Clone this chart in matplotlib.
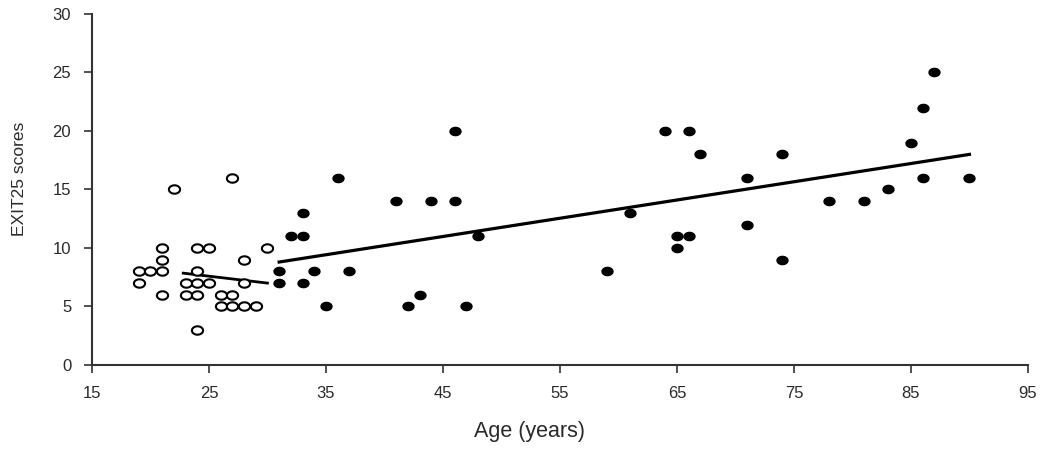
import matplotlib
matplotlib.use("Agg")
import matplotlib.pyplot as plt
import numpy as np
from matplotlib.path import Path

plt.rcParams['font.family'] = ['Liberation Sans', 'DejaVu Sans']

# younger group (open markers)
young_age = [19, 20, 21, 19, 21, 21, 21, 22, 23, 23, 24, 24, 24, 24, 24,
             25, 25, 26, 26, 27, 27, 27, 28, 28, 28, 29, 30]
young_score = [8, 8, 8, 7, 10, 9, 6, 15, 7, 6, 10, 8, 7, 6, 3,
               10, 7, 6, 5, 16, 6, 5, 9, 7, 5, 5, 10]

# older group (filled markers)
old_age = [31, 31, 32, 33, 33, 33, 34, 35, 36, 37, 41, 42, 43, 44, 46, 46,
           47, 48, 59, 61, 64, 65, 65, 66, 66, 67, 71, 71, 74, 74, 78, 81,
           83, 85, 86, 86, 87, 90]
old_score = [8, 7, 11, 13, 11, 7, 8, 5, 16, 8, 14, 5, 6, 14, 20, 14,
             5, 11, 8, 13, 20, 11, 10, 20, 11, 18, 16, 12, 18, 9, 14, 14,
             15, 19, 22, 16, 25, 16]

# fitted lines
young_fit_age = [22.8, 30]
young_fit_score = [7.85, 7.0]
old_fit_age = [31, 90]
old_fit_score = [8.8, 18.0]

x_ticks = [15, 25, 35, 45, 55, 65, 75, 85, 95]
y_ticks = [0, 5, 10, 15, 20, 25, 30]

# slightly flattened circle marker, like the original
t = np.linspace(0, 2 * np.pi, 40)
oval = Path(np.column_stack([np.cos(t), 0.75 * np.sin(t)]), closed=True)

fig = plt.figure(figsize=(10.5, 4.51), dpi=100)
ax = fig.add_axes([0.0876, 0.1907, 0.8914, 0.7783])

ax.plot(young_fit_age, young_fit_score, color="black", lw=2, zorder=2)
ax.plot(old_fit_age, old_fit_score, color="black", lw=2.3, zorder=2)

ax.scatter(young_age, young_score, s=65, marker=oval, facecolor="white",
           edgecolor="black", linewidths=1.5, zorder=3)
ax.scatter(old_age, old_score, s=62, marker=oval, facecolor="black",
           edgecolor="black", zorder=3)

ax.set_xlim(15, 95)
ax.set_ylim(0, 30)
ax.set_xticks(x_ticks)
ax.set_yticks(y_ticks)

for side in ["top", "right"]:
    ax.spines[side].set_visible(False)
for side in ["left", "bottom"]:
    ax.spines[side].set_color("#333333")
    ax.spines[side].set_linewidth(1.5)

ax.tick_params(direction="out", length=6, width=1.2, color="#333333",
               labelsize=12, labelcolor="#2a2a2a", pad=9)

ax.set_xlabel("Age (years)", fontsize=15.5, color="#2a2a2a")
ax.set_ylabel("EXIT25 scores", fontsize=12.5, color="#2a2a2a")
ax.xaxis.set_label_coords(0.467, -0.16)
ax.yaxis.set_label_coords(-0.069, 0.53)

fig.savefig("out.png", dpi=100)
